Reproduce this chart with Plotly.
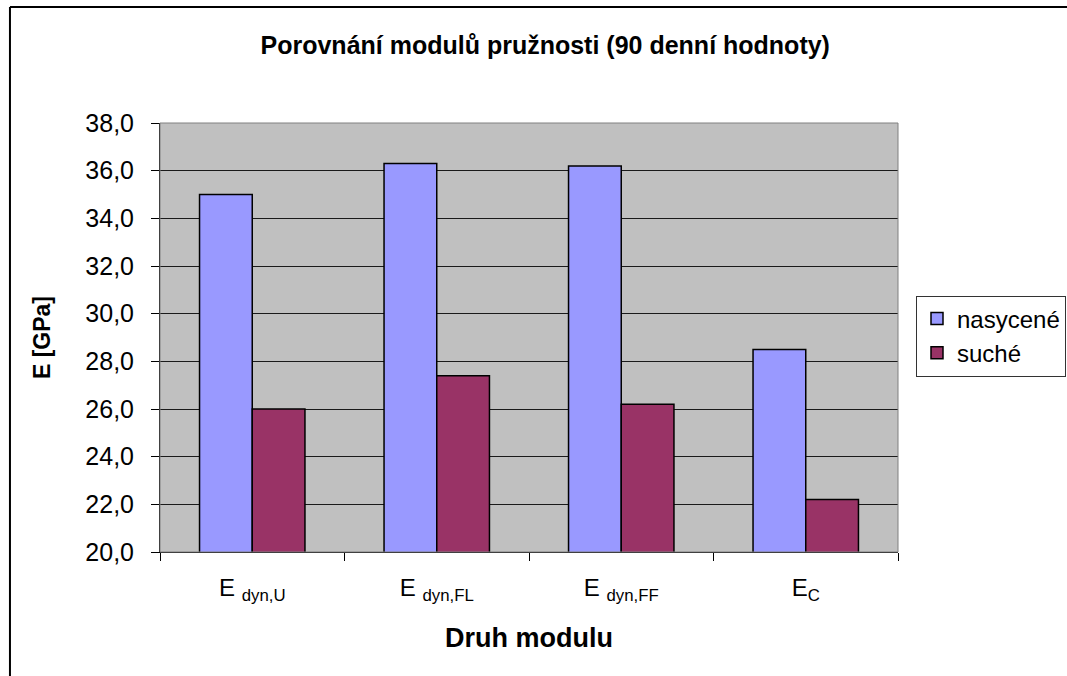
import plotly.graph_objects as go

categories = ["E <sub>dyn,U</sub>", "E <sub>dyn,FL</sub>", "E <sub>dyn,FF</sub>", "E<sub>C</sub>"]
nasycene = [35.0, 36.3, 36.2, 28.5]
suche = [26.0, 27.4, 26.2, 22.2]
y_ticks = [20, 22, 24, 26, 28, 30, 32, 34, 36, 38]

FONT = "Liberation Sans, Arial, sans-serif"

fig = go.Figure()
fig.add_trace(go.Bar(x=categories, y=nasycene, name="nasycené",
                     marker=dict(color="#9999FF", line=dict(color="black", width=1.5))))
fig.add_trace(go.Bar(x=categories, y=suche, name="suché",
                     marker=dict(color="#993366", line=dict(color="black", width=1.5))))

fig.update_layout(
    width=1067, height=676,
    margin=dict(l=160, r=169, t=123, b=124, autoexpand=False),
    paper_bgcolor="white",
    plot_bgcolor="#C0C0C0",
    separators=",.",
    barmode="group",
    bargap=0.4286,
    bargroupgap=0,
    font=dict(family=FONT, color="black", size=22),
    title=dict(text="<b>Porovnání modulů pružnosti (90 denní hodnoty)</b>",
               x=0.511, xref="container", y=0.933, yanchor="middle",
               font=dict(size=25, family=FONT, color="black")),
    legend=dict(xref="container", x=916/1067, xanchor="left",
                yref="container", y=1 - 336/676, yanchor="middle",
                bordercolor="#333333", borderwidth=1, bgcolor="white",
                font=dict(size=24, family=FONT), traceorder="normal",
                itemwidth=30, tracegroupgap=2),
    showlegend=True,
)

fig.update_xaxes(
    showline=True, linecolor="black", linewidth=1,
    ticks="outside", tickson="boundaries", ticklen=8, tickcolor="black",
    tickfont=dict(size=24, family=FONT),
    ticklabelstandoff=14,
    title=dict(text="<b>Druh modulu</b>", font=dict(size=27, family=FONT), standoff=24),
    showgrid=False,
)
fig.update_yaxes(
    range=[20, 38], tickvals=y_ticks, tickformat=".1f",
    showline=True, linecolor="black", linewidth=1,
    ticks="outside", ticklen=8, tickcolor="black",
    tickfont=dict(size=25, family=FONT),
    ticklabelstandoff=12,
    showgrid=True, gridcolor="#1a1a1a", gridwidth=1,
    zeroline=False,
    title=dict(text="<b>E [GPa]</b>", font=dict(size=23, family=FONT), standoff=28),
)

# plot area border (gray) and chart outer border
fig.add_shape(type="rect", xref="paper", yref="paper", x0=0, x1=1, y0=0, y1=1,
              line=dict(color="#808080", width=1), layer="above")
fig.add_shape(type="line", xref="paper", yref="paper", x0=-0.2033, x1=-0.2033,
              y0=1.2704, y1=-0.4, line=dict(color="black", width=2))
fig.add_shape(type="line", xref="paper", yref="paper", x0=-0.2033, x1=1.4,
              y0=1.2704, y1=1.2704, line=dict(color="black", width=2))

fig.write_html("out.html", config={"displayModeBar": False},
               post_script="document.body.style.margin='0px';")
